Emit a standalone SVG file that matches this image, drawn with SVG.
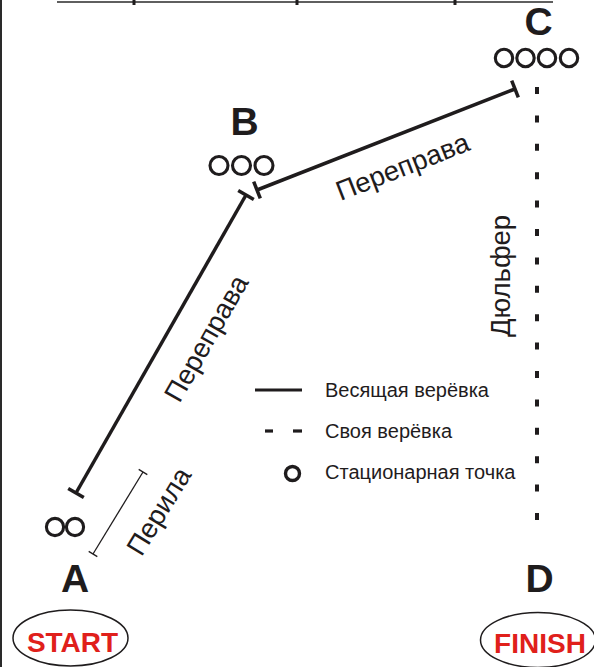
<svg xmlns="http://www.w3.org/2000/svg" width="594" height="667" viewBox="0 0 594 667">
<style>
.lbl{font-family:"Liberation Sans",Arial,sans-serif;font-weight:bold;font-size:39px;fill:#1f1c1d;text-anchor:middle}
.red{font-family:"Liberation Sans",Arial,sans-serif;font-weight:bold;font-size:28px;fill:#e0201b;text-anchor:middle}
.rot{font-family:"Liberation Sans",Arial,sans-serif;font-size:27.5px;fill:#1f1c1d;text-anchor:middle}
.leg{font-family:"Liberation Sans",Arial,sans-serif;font-size:20px;fill:#1f1c1d}
.pt{fill:none;stroke:#1f1c1d;stroke-width:3.1}
.rope{stroke:#1f1c1d;stroke-width:3.5;fill:none}
.thin{stroke:#1f1c1d;stroke-width:1.3;fill:none}
.oval{fill:none;stroke:#1f1c1d;stroke-width:1.5}
</style>
<rect width="594" height="667" fill="#ffffff"/>
<g id="frame">
<line x1="1" y1="0" x2="1" y2="667" stroke="#2a2a2a" stroke-width="2"/>
<line x1="57" y1="2" x2="553" y2="2" stroke="#2a2a2a" stroke-width="1.6"/>
<line x1="134" y1="0" x2="134" y2="5" stroke="#1f1c1d" stroke-width="3"/>
<line x1="297" y1="0" x2="297" y2="5" stroke="#1f1c1d" stroke-width="3"/>
<line x1="455" y1="0" x2="455" y2="5" stroke="#1f1c1d" stroke-width="3"/>
</g>
<g id="connectors">
<g id="rope-AB">
<line class="rope" x1="76" y1="493" x2="246" y2="195"/>
<line class="rope" x1="68.2" y1="488.5" x2="83.8" y2="497.5"/>
<line class="rope" x1="238.2" y1="190.5" x2="253.8" y2="199.5"/>
</g>
<g id="rope-BC">
<line class="rope" x1="257" y1="190" x2="515" y2="89"/>
<line class="rope" x1="253.7" y1="181.6" x2="260.3" y2="198.4"/>
<line class="rope" x1="511.7" y1="80.6" x2="518.3" y2="97.4"/>
</g>
<g id="perila">
<line class="thin" x1="143" y1="472" x2="93" y2="554"/>
<line class="thin" x1="138.7" y1="469.4" x2="147.3" y2="474.6"/>
<line class="thin" x1="88.7" y1="551.4" x2="97.3" y2="556.6"/>
</g>
<line id="rope-CD" x1="537" y1="87" x2="537" y2="521" stroke="#1f1c1d" stroke-width="4" stroke-dasharray="7 21.4"/>
<text class="rot" transform="translate(160,512) rotate(-58.6)" y="8">Перила</text>
<text class="rot" transform="translate(207.5,339) rotate(-60.3)" y="8">Переправа</text>
<text class="rot" transform="translate(403,168) rotate(-21.4)" y="8">Переправа</text>
<text class="rot" transform="translate(510,276) rotate(-90)">Дюльфер</text>
</g>
<g id="node-A">
<text class="lbl" x="75" y="592">A</text>
<circle class="pt" cx="55" cy="527" r="8.6"/>
<circle class="pt" cx="75" cy="527" r="8.6"/>
</g>
<g id="node-B">
<text class="lbl" x="244.5" y="135">B</text>
<circle class="pt" cx="219" cy="165.5" r="9"/>
<circle class="pt" cx="241.5" cy="165.5" r="9"/>
<circle class="pt" cx="264" cy="165.5" r="9"/>
</g>
<g id="node-C">
<text class="lbl" x="538.5" y="35">C</text>
<circle class="pt" cx="504" cy="58" r="8.7"/>
<circle class="pt" cx="525.5" cy="58" r="8.7"/>
<circle class="pt" cx="547" cy="58" r="8.7"/>
<circle class="pt" cx="569" cy="58" r="8.7"/>
</g>
<g id="node-D">
<text class="lbl" x="539.5" y="592">D</text>
</g>
<g id="start">
<ellipse class="oval" cx="70.5" cy="638" rx="57.5" ry="28"/>
<text class="red" x="72.5" y="652">START</text>
</g>
<g id="finish">
<ellipse class="oval" cx="538" cy="640" rx="57.5" ry="27.5"/>
<text class="red" x="540" y="653">FINISH</text>
</g>
<g id="legend">
<line x1="255" y1="390" x2="302" y2="390" stroke="#1f1c1d" stroke-width="3.2"/>
<line x1="265" y1="431" x2="273" y2="431" stroke="#1f1c1d" stroke-width="3.2"/>
<line x1="293" y1="431" x2="302" y2="431" stroke="#1f1c1d" stroke-width="3.2"/>
<circle cx="292.5" cy="473.5" r="7" fill="none" stroke="#1f1c1d" stroke-width="3.4"/>
<text class="leg" x="325" y="397">Весящая верёвка</text>
<text class="leg" x="325" y="438">Своя верёвка</text>
<text class="leg" x="325" y="479">Стационарная точка</text>
</g>
</svg>
